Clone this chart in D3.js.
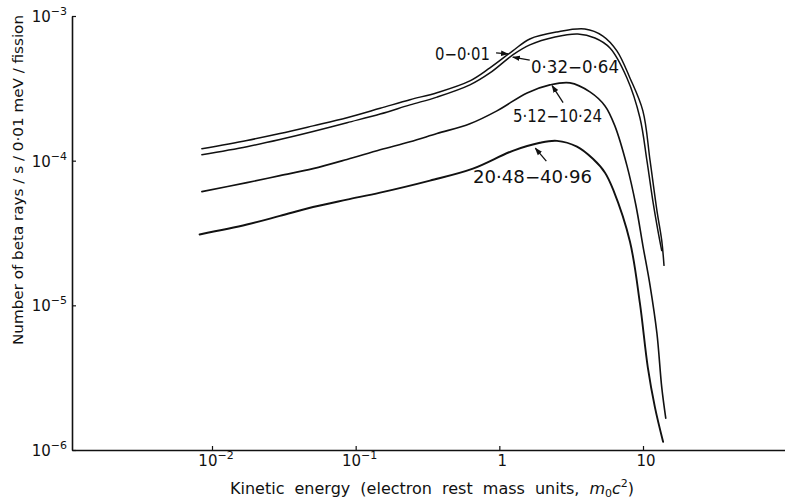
<!DOCTYPE html>
<html><head><meta charset="utf-8">
<script src="https://cdn.jsdelivr.net/npm/d3@7"></script>
<style>
body{margin:0;background:#fff}
svg{display:block}
text{font-family:"DejaVu Sans",sans-serif;fill:#111}
</style>
</head><body>
<svg id="c" width="785" height="502"></svg>
<script>
// ---- data ----
const curveLabels = ["0−0·01", "0·32−0·64", "5·12−10·24", "20·48−40·96"];

const energyA = [0.0085, 0.0175, 0.0297, 0.0505, 0.087, 0.148, 0.239, 0.368, 0.624, 0.86, 1.24, 1.63, 2.52, 3.94, 5.26, 6.58, 8.11, 9.98, 11.2, 12.5, 13.5, 14.0];
const rateA   = [1.21e-4, 1.38e-4, 1.54e-4, 1.74e-4, 1.98e-4, 2.30e-4, 2.64e-4, 2.95e-4, 3.56e-4, 4.38e-4, 5.74e-4, 6.94e-4, 7.76e-4, 8.13e-4, 7.27e-4, 5.74e-4, 3.73e-4, 2.21e-4, 1.0e-4, 4.52e-5, 2.81e-5, 1.89e-5];

const energyB = [0.0085, 0.0175, 0.0297, 0.0505, 0.087, 0.148, 0.239, 0.368, 0.624, 0.86, 1.24, 1.63, 2.44, 3.52, 4.63, 5.89, 7.73, 9.52, 10.65, 11.7, 12.7, 13.5];
const rateB   = [1.10e-4, 1.25e-4, 1.40e-4, 1.59e-4, 1.83e-4, 2.10e-4, 2.43e-4, 2.75e-4, 3.34e-4, 4.04e-4, 5.38e-4, 6.31e-4, 7.16e-4, 7.51e-4, 7.05e-4, 6.01e-4, 3.73e-4, 1.98e-4, 1.0e-4, 5.30e-5, 3.29e-5, 2.39e-5];

const energyC = [0.0085, 0.0175, 0.0297, 0.0505, 0.087, 0.148, 0.239, 0.368, 0.624, 0.962, 1.56, 2.25, 3.10, 4.27, 5.44, 6.37, 7.73, 8.93, 9.98, 11.2, 12.5, 13.5, 14.4];
const rateC   = [6.11e-5, 7.05e-5, 7.88e-5, 8.81e-5, 1.02e-4, 1.19e-4, 1.35e-4, 1.54e-4, 1.80e-4, 2.21e-4, 2.94e-4, 3.34e-4, 3.45e-4, 2.99e-4, 2.39e-4, 1.74e-4, 9.24e-5, 4.90e-5, 2.59e-5, 1.37e-5, 6.41e-6, 2.72e-6, 1.66e-6];

const energyD = [0.0082, 0.0175, 0.0297, 0.0505, 0.087, 0.148, 0.329, 0.655, 1.24, 1.92, 2.52, 3.47, 4.48, 5.44, 6.2, 8.11, 9.52, 10.8, 12.1, 13.8];
const rateD   = [3.09e-5, 3.62e-5, 4.15e-5, 4.78e-5, 5.38e-5, 6.01e-5, 7.28e-5, 8.81e-5, 1.17e-4, 1.33e-4, 1.37e-4, 1.25e-4, 1.03e-4, 8.26e-5, 6.3e-5, 2.76e-5, 1.03e-5, 3.73e-6, 1.98e-6, 1.14e-6];

const xTickValues = [0.01, 0.1, 1, 10];
const xTickBase   = ["10", "10", "1", "10"];
const xTickExp    = ["−2", "−1", "", ""];
const yTickValues = [1e-6, 1e-5, 1e-4, 1e-3];
const yTickExp    = ["−6", "−5", "−4", "−3"];

// ---- layout ----
const svg = d3.select("#c");
const xRef = d3.scaleLog().domain([0.01, 10]).range([212, 643]);
const x = d3.scaleLog().domain([xRef.invert(72), xRef.invert(785)]).range([72, 785]);
const y = d3.scaleLog().domain([1e-6, 1e-3]).range([450, 16]);

// axes
const gx = svg.append("g").attr("transform", "translate(0,450)")
  .call(d3.axisBottom(x).tickValues(xTickValues).tickSize(-4).tickSizeOuter(0).tickFormat(""));
gx.select(".domain").attr("stroke", "#111").attr("stroke-width", 1.6);
gx.selectAll(".tick line").attr("stroke", "#111").attr("stroke-width", 1.2);

const gy = svg.append("g").attr("transform", "translate(72,0)")
  .call(d3.axisLeft(y).tickValues(yTickValues).tickSize(-4).tickSizeOuter(0).tickFormat(""));
gy.select(".domain").attr("stroke", "#111").attr("stroke-width", 1.6);
gy.selectAll(".tick line").attr("stroke", "#111").attr("stroke-width", 1.2);

// x tick labels
xTickValues.forEach((v, i) => {
  const t = svg.append("text")
    .attr("x", x(v) + (xTickExp[i] ? 4 : 3)).attr("y", 466)
    .attr("text-anchor", "middle").attr("font-size", 15);
  t.append("tspan").text(xTickBase[i]);
  if (xTickExp[i]) t.append("tspan").attr("font-size", 11).attr("dy", -7).text(xTickExp[i]);
});

// y tick labels
yTickValues.forEach((v, i) => {
  const t = svg.append("text")
    .attr("x", 67).attr("y", y(v) + 6)
    .attr("text-anchor", "end").attr("font-size", 15);
  t.append("tspan").text("10");
  t.append("tspan").attr("font-size", 11).attr("dy", -7).text(yTickExp[i]);
});

// axis titles
svg.append("text")
  .attr("transform", "translate(23,180) rotate(-90)")
  .attr("text-anchor", "middle").attr("font-size", 14.5)
  .attr("textLength", 330).attr("lengthAdjust", "spacingAndGlyphs")
  .text("Number  of  beta  rays / s / 0·01  meV / fission");

const xt = svg.append("text").attr("x", 230).attr("y", 494).attr("font-size", 16)
  .attr("word-spacing", 5);
xt.append("tspan").text("Kinetic    energy (electron  rest  mass  units, ");
xt.append("tspan").attr("font-style", "italic").text("m");
xt.append("tspan").attr("font-size", 11).attr("dy", 3).text("0");
xt.append("tspan").attr("font-style", "italic").attr("dy", -3).text("c");
xt.append("tspan").attr("font-size", 11).attr("dy", -7).text("2");
xt.append("tspan").attr("dy", 7).text(")");

// curves
const series = [
  {e: energyA, r: rateA, w: 1.5},
  {e: energyB, r: rateB, w: 1.5},
  {e: energyC, r: rateC, w: 1.6},
  {e: energyD, r: rateD, w: 1.9}
];
const line = d3.line().x(d => x(d[0])).y(d => y(d[1])).curve(d3.curveCatmullRom.alpha(0.5));
series.forEach(s => {
  svg.append("path")
    .attr("d", line(s.e.map((v, i) => [v, s.r[i]])))
    .attr("fill", "none").attr("stroke", "#111").attr("stroke-width", s.w)
    .attr("stroke-linejoin", "round").attr("stroke-linecap", "round");
});

// annotations: arrow tip in data space, tail offset & label box in px
svg.append("defs").append("marker")
  .attr("id", "ah").attr("viewBox", "0 0 10 10").attr("refX", 9).attr("refY", 5)
  .attr("markerWidth", 6).attr("markerHeight", 6).attr("orient", "auto")
  .append("path").attr("d", "M0,1.5L10,5L0,8.5Z").attr("fill", "#111");

const notes = [
  {tip: [1.15, 5.47e-4], tail: [-12, -1], tx: 435, ty: 60, w: 55},
  {tip: [1.24, 5.20e-4], tail: [17, 3], tx: 531, ty: 73, w: 88},
  {tip: [2.33, 3.30e-4], tail: [11, 17], tx: 513, ty: 122, w: 89},
  {tip: [1.78, 1.22e-4], tail: [11, 13], tx: 473, ty: 183, w: 119}
];
notes.forEach((n, i) => {
  const px = x(n.tip[0]), py = y(n.tip[1]);
  svg.append("line")
    .attr("x1", px + n.tail[0]).attr("y1", py + n.tail[1])
    .attr("x2", px).attr("y2", py)
    .attr("stroke", "#111").attr("stroke-width", 1.3).attr("marker-end", "url(#ah)");
  svg.append("text").attr("x", n.tx).attr("y", n.ty).attr("font-size", 17)
    .attr("textLength", n.w).attr("lengthAdjust", "spacingAndGlyphs")
    .text(curveLabels[i]);
});
</script>
</body></html>
